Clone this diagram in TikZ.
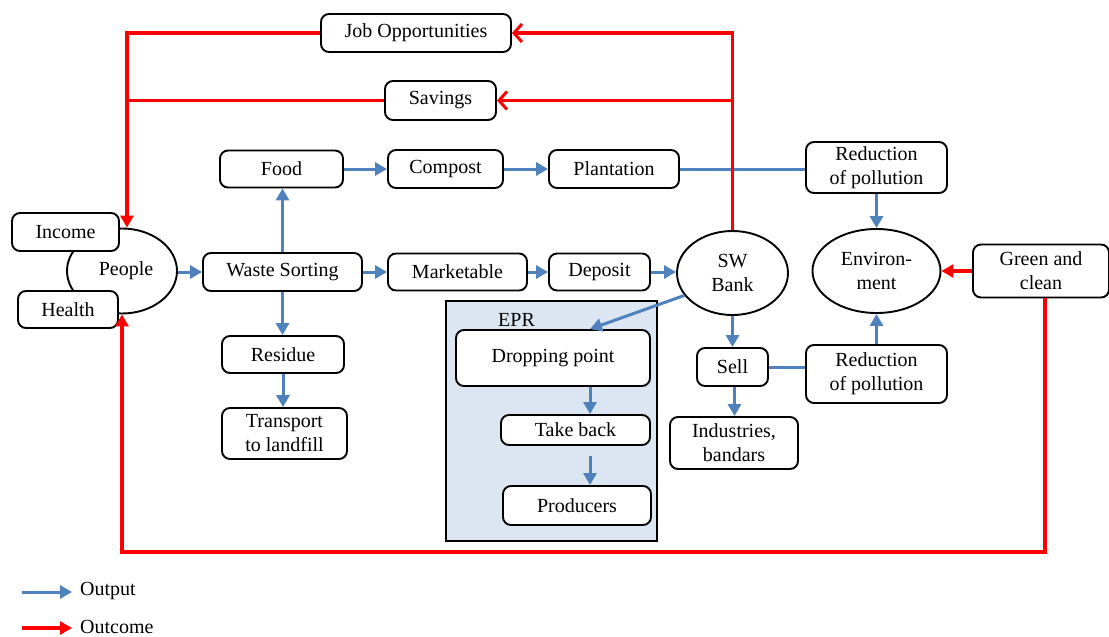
\documentclass[tikz,border=0pt]{standalone}
\usepackage{fontspec}
\setmainfont{Liberation Serif}
\usetikzlibrary{arrows.meta,shapes.geometric,calc}
\definecolor{outblue}{HTML}{4F81BD}
\definecolor{outred}{HTML}{FF0000}
\definecolor{eprfill}{HTML}{DCE6F2}
\tikzset{
  box/.style={draw=black,line width=1.9pt,rounded corners=8pt,fill=white,
    align=center,inner sep=0pt,font=\fontsize{20}{24}\selectfont},
  oval/.style={draw=black,line width=1.9pt,ellipse,fill=white,inner sep=0pt,
    align=center,font=\fontsize{20}{24}\selectfont},
  outarrow/.style={draw=outblue,line width=3pt,-{Triangle[length=12pt,width=13pt]}},
  outline/.style={draw=outblue,line width=3pt},
  resultline/.style={draw=outred,line width=3.2pt},
  resultbarb/.style={draw=outred,line width=3.2pt,-{Straight Barb[length=8pt,width=18pt,line width=3pt]}},
  resultarrow/.style={draw=outred,line width=3.2pt,-{Triangle[length=12pt,width=13pt]}},
  lbl/.style={inner sep=0pt,font=\fontsize{20}{24}\selectfont}
}
\begin{document}
\begin{tikzpicture}[x=1pt,y=-1pt]
\useasboundingbox (0,0) rectangle (1109,637);

% EPR panel
\node[draw=black,line width=1.6pt,fill=eprfill,minimum width=211pt,minimum height=240pt,inner sep=0pt] (epr) at (551.5,421) {};
\node[lbl,anchor=west] (eprlbl) at (498,320) {EPR};

% People and its attributes
\node[oval,minimum width=110pt,minimum height=85pt] (ppl) at (122,271) {};
\node[lbl] (ppltxt) at (126,271) {People};
\node[box,minimum width=107pt,minimum height=38pt] (inc) at (65.5,232) {Income};
\node[box,minimum width=100pt,minimum height=37pt] (hlt) at (68,309.5) {Health};

% Top row of outcomes
\node[box,minimum width=190pt,minimum height=38pt] (job) at (416,33) {Job Opportunities};
\node[box,minimum width=111pt,minimum height=39pt] (sav) at (440.5,100.5) {Savings};

% Organic stream
\node[box,minimum width=123pt,minimum height=37pt] (food) at (281.5,169) {Food};
\node[box,minimum width=115pt,minimum height=38pt] (comp) at (445.5,169) {Compost};
\node[box,minimum width=130pt,minimum height=38pt] (plant) at (614,169) {Plantation};
\node[box,minimum width=141pt,minimum height=51pt] (redt) at (876.5,167.5) {Reduction\\of pollution};

% Main row
\node[box,minimum width=159pt,minimum height=38pt] (ws) at (282.5,272) {Waste Sorting};
\node[box,minimum width=139pt,minimum height=37pt] (mkt) at (457.5,272) {Marketable};
\node[box,minimum width=101pt,minimum height=37pt] (dep) at (599.5,272) {Deposit};
\node[oval,minimum width=111pt,minimum height=84pt] (sw) at (732.5,273) {SW\\Bank};
\node[oval,minimum width=128pt,minimum height=84pt] (env) at (876.5,271) {Environ-\\ment};
\node[box,minimum width=136pt,minimum height=53pt] (gc) at (1041,271) {Green and\\clean};

% Residue stream
\node[box,minimum width=122pt,minimum height=37pt] (res) at (283,354.5) {Residue};
\node[box,minimum width=125pt,minimum height=51pt] (land) at (284.5,433.5) {Transport\\to landfill};

% EPR chain
\node[box,minimum width=194pt,minimum height=56pt] (dp) at (553,358) {Dropping point};
\node[box,minimum width=149pt,minimum height=30pt] (tb) at (575.5,430) {Take back};
\node[box,minimum width=148pt,minimum height=39pt] (prod) at (577,505.5) {Producers};

% Selling stream
\node[box,minimum width=71pt,minimum height=38pt] (sell) at (732.5,367) {Sell};
\node[box,minimum width=141pt,minimum height=58pt] (redb) at (876.5,374) {Reduction\\of pollution};
\node[box,minimum width=128pt,minimum height=52pt] (ind) at (734,443) {Industries,\\bandars};

% Outputs (blue)
\draw[outarrow] (ppl.east |- ws.west) -- (ws.west);
\draw[outarrow] (ws.north) -- (food.south -| ws.north);
\draw[outarrow] (food) -- (comp);
\draw[outarrow] (comp) -- (plant);
\draw[outline] (plant.east) -- (redt.west |- plant.east);
\draw[outarrow] (redt.south) -- (env.north);
\draw[outarrow] (ws.south) -- (res.north -| ws.south);
\draw[outarrow] (res.south) -- (land.north -| res.south);
\draw[outarrow] (ws) -- (mkt);
\draw[outarrow] (mkt) -- (dep);
\draw[outarrow] (dep.east) -- (sw.west |- dep.east);
\draw[outarrow] (sw.205) -- ([xshift=37pt]dp.north);
\draw[outarrow] ([xshift=37pt]dp.south) -- ([xshift=14.5pt]tb.north);
\draw[outarrow,shorten <=10pt] ([xshift=14.5pt]tb.south) -- ([xshift=13pt]prod.north);
\draw[outarrow] (sw.south) -- (sell.north);
\draw[outarrow] ([xshift=2pt]sell.south) -- ([xshift=0.5pt]ind.north);
\draw[outline] (sell.east) -- (redb.west |- sell.east);
\draw[outarrow] (redb.north) -- (env.south);

% Outcomes (red)
\draw[resultbarb] (sw.north) |- (job.east);
\draw[resultbarb] (sw.north |- sav.east) -- (sav.east);
\coordinate (pin) at ([xshift=5pt]ppl.north);
\draw[resultarrow] (job.west) -| (pin);
\draw[resultline] (sav.west) -- (sav.west -| pin);
\draw[resultarrow] (gc.west) -- (env.east);
\coordinate (loop) at (1045,552);
\draw[resultarrow] (gc.south -| loop) -- (loop) -| (ppl.south);

% Legend
\node[lbl,anchor=west] (lgout) at (80,591) {Output};
\node[lbl,anchor=west] (lgres) at (80,627) {Outcome};
\coordinate (lgoa) at (22,592);
\coordinate (lgra) at (22,628);
\draw[outarrow] (lgoa) -- ([xshift=-8pt]lgout.west |- lgoa);
\draw[resultarrow] (lgra) -- ([xshift=-8pt]lgres.west |- lgra);
\end{tikzpicture}
\end{document}
